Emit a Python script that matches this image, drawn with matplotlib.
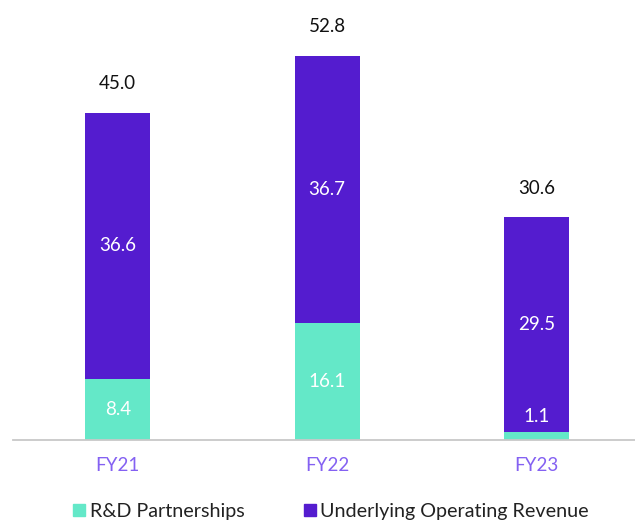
#!/usr/bin/env python3
"""Stacked revenue bars: R&D partnerships vs underlying operating revenue."""
import matplotlib
matplotlib.use("Agg")
import matplotlib.pyplot as plt
from matplotlib.lines import Line2D

years = ["FY21", "FY22", "FY23"]
rnd = [8.4, 16.1, 1.1]
operating = [36.6, 36.7, 29.5]
totals = [45.0, 52.8, 30.6]

TEAL = "#64e8c8"
PURPLE = "#541ccf"
TICK = "#8461f2"

plt.rcParams["font.family"] = ["Lato", "DejaVu Sans"]

fig = plt.figure(figsize=(6.35, 5.21), dpi=100)
ax = fig.add_axes([13 / 635, 81 / 521, 1 - 13 / 635, 1 - 81 / 521])

x = range(len(years))
w = 0.31
ax.bar(x, rnd, w, color=TEAL)
ax.bar(x, operating, w, bottom=rnd, color=PURPLE)

for i in x:
    # R&D segment label, moved above the segment when it is too thin
    if rnd[i] > 4:
        ax.text(i, rnd[i] / 2, f"{rnd[i]:.1f}", ha="center", va="center",
                color="white", fontsize=13.5)
    else:
        ax.annotate(f"{rnd[i]:.1f}", (i, rnd[i]), xytext=(0, 11),
                    textcoords="offset points", ha="center", va="center",
                    color="white", fontsize=13.5)
    ax.text(i, rnd[i] + operating[i] / 2, f"{operating[i]:.1f}", ha="center",
            va="center", color="white", fontsize=13.5)
    ax.annotate(f"{totals[i]:.1f}", (i, totals[i]), xytext=(0, 21),
                textcoords="offset points", ha="center", va="center",
                color="#111111", fontsize=13.5)

ax.set_xlim(-0.5, 2.47)
ax.set_ylim(0, 60.5)
ax.set_xticks(list(x))
ax.set_xticklabels(years, color=TICK, fontsize=13.5)
ax.tick_params(axis="x", length=0, pad=12)
ax.set_yticks([])
for side in ["top", "right", "left"]:
    ax.spines[side].set_visible(False)
ax.spines["bottom"].set_color("#c8c8c8")
ax.spines["bottom"].set_linewidth(1.3)

handles = [
    Line2D([], [], marker="s", linestyle="none", color=TEAL, markersize=8),
    Line2D([], [], marker="s", linestyle="none", color=PURPLE, markersize=8),
]
fig.legend(handles, ["R&D Partnerships", "Underlying Operating Revenue"],
           loc="center", bbox_to_anchor=(331 / 635, 10 / 521), ncol=2,
           frameon=False, fontsize=14.2, handlelength=0.6, handletextpad=0.25,
           columnspacing=3.0, labelcolor="#222222")

fig.savefig("out.png", dpi=100)
